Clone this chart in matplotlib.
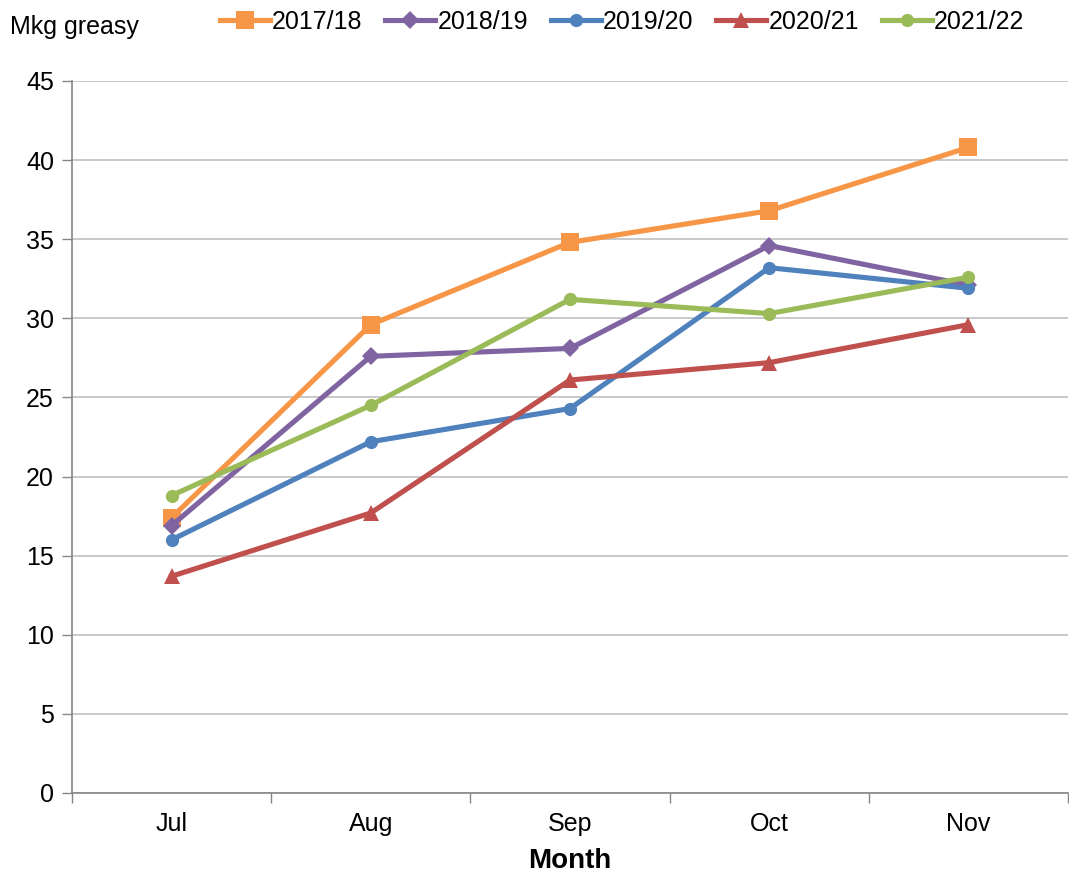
import matplotlib
matplotlib.use("Agg")
import matplotlib.pyplot as plt
import numpy as np

months = ["Jul", "Aug", "Sep", "Oct", "Nov"]
s2017 = [17.4, 29.6, 34.8, 36.8, 40.8]
s2018 = [16.9, 27.6, 28.1, 34.6, 32.1]
s2019 = [16.0, 22.2, 24.3, 33.2, 31.9]
s2020 = [13.7, 17.7, 26.1, 27.2, 29.6]
s2021 = [18.8, 24.5, 31.2, 30.3, 32.6]
labels = ["2017/18", "2018/19", "2019/20", "2020/21", "2021/22"]
yticks = [0, 5, 10, 15, 20, 25, 30, 35, 40, 45]

plt.rcParams['font.family'] = ['Liberation Sans', 'DejaVu Sans']

fig = plt.figure(figsize=(10.69, 8.74), dpi=100)
ax = fig.add_axes([72/1069, 1-793/874, 996/1069, (793-81)/874])

x = np.arange(len(months))
series = [s2017, s2018, s2019, s2020, s2021]
colors = ["#F79646", "#8064A2", "#4F81BD", "#C0504D", "#9BBB59"]
markers = ["s", "D", "o", "^", "o"]
msizes = [12.5, 9.5, 9.5, 11, 9.5]
for s, c, m, ms, l in zip(series, colors, markers, msizes, labels):
    ax.plot(x, s, color=c, marker=m, markersize=ms, linewidth=3.7, label=l,
            markeredgewidth=0, solid_joinstyle='round')

ax.set_xlim(-0.5, len(months) - 0.5)
ax.set_ylim(0, 45)
ax.set_yticks(yticks)
ax.set_xticks(x)
ax.set_xticklabels(months)
ax.set_xticks(np.arange(-0.5, len(months)), minor=True)
ax.tick_params(axis='x', which='major', length=0, pad=14, labelsize=18)
ax.tick_params(axis='x', which='minor', length=7, color='#868686', width=1)
ax.tick_params(axis='y', length=7, color='#868686', width=1, labelsize=18, pad=6)
ax.grid(axis='y', color='#C0C0C0', linewidth=1.2)
ax.set_axisbelow(True)
for side in ['top', 'right']:
    ax.spines[side].set_visible(False)
for side in ['left', 'bottom']:
    ax.spines[side].set_color('#868686')
    ax.spines[side].set_linewidth(1.2)

ax.set_xlabel("Month", fontsize=20, fontweight='bold', labelpad=8)
fig.text(10/1069, 1-27/874, "Mkg greasy", fontsize=18, va='center', ha='left')

leg = fig.legend(loc='center', bbox_to_anchor=(622/1069, 1-22/874), ncol=5,
                 frameon=False, fontsize=18, handlelength=2.0, handletextpad=0.1,
                 columnspacing=0.9, borderaxespad=0)

fig.savefig("out.png", dpi=100)
